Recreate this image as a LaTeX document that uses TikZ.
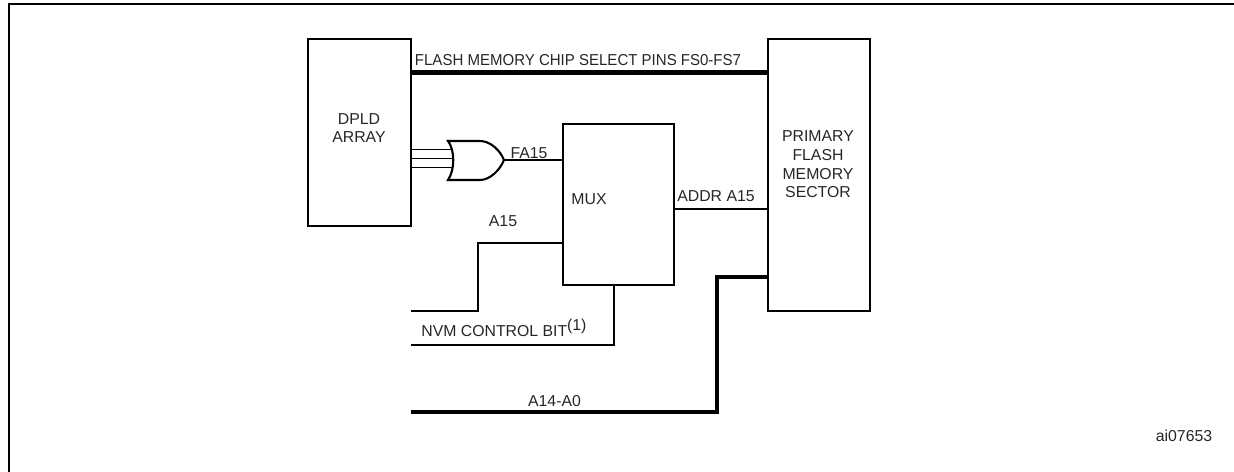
\documentclass[tikz,border=0pt]{standalone}
\usepackage{fontspec}
\setmainfont{Liberation Sans}
\usetikzlibrary{positioning}
\tikzstyle{block}=[draw,line width=1.2pt,inner sep=0pt,outer sep=0pt]
\tikzstyle{sig}=[line width=1pt]
\tikzstyle{bus}=[line width=2.4pt]
\tikzstyle{lbl}=[text=black!85,font=\fontsize{9}{10.6}\selectfont,inner sep=0pt,align=center]

\begin{document}
\begin{tikzpicture}[x=0.02cm,y=-0.02cm]

  \useasboundingbox (0,0) rectangle (1234,472);

  % frame
  \draw[line width=1.15pt] (9,472) -- (9,4) -- (1234,4);

  % blocks
  \node[block,minimum width=2.06cm,minimum height=3.75cm] (dpld) at (359.5,132.5) {};
  \node[block,minimum width=2.22cm,minimum height=3.22cm] (mux) at (618.5,204.5) {};
  \node[block,minimum width=2.04cm,minimum height=5.44cm] (flash) at (818.6,175) {};

  \coordinate (a15in) at (411,311);
  \coordinate (nvmin) at (411,345);
  \coordinate (addrin) at (411,412);

  % or gate
  \coordinate (orout) at (504,160);
  \draw[line width=1.2pt] (448,141) -- (480,141) .. controls (490,141) and (500,150) .. (orout) .. controls (500,170) and (490,180) .. (480,180) -- (448,180) .. controls (455,170) and (455,150) .. cycle;
  \foreach \y in {149.5,158.5,167.5} {
    \draw[sig] (dpld.east |- 0,\y) -- (452,\y);
  }

  % nets
  \draw[bus] (dpld.east |- 0,72.5) -- (flash.west |- 0,72.5);
  \draw[sig] (orout) -- (mux.west |- orout);
  \draw[sig] (mux.east |- 0,209) -- (flash.west |- 0,209);
  \draw[sig] (a15in) -- (478,311) -- (478,243) -- (mux.west |- 0,243);
  \draw[sig] (nvmin) -- (614,345) -- (mux.south -| 614,0);
  \draw[bus] (addrin) -- (716.7,412) -- (716.7,277) -- (flash.west |- 0,277);

  % labels
  \node[lbl] (dpldtext) at (359,128) {DPLD\\ ARRAY};
  \node[lbl] (muxtext) at (589,199) {MUX};
  \node[lbl] (flashtext) at (818,164.5) {PRIMARY\\ FLASH\\ MEMORY\\ SECTOR};
  \node[lbl,xscale=0.95,transform shape] (fstext) at (578,60) {FLASH MEMORY CHIP SELECT PINS FS0-FS7};
  \node[lbl] (fatext) at (529,153) {FA15};
  \node[lbl] (atext) at (503,221) {A15};
  \node[lbl] (addrtext) at (716,196) {ADDR A15};
  \node[lbl,anchor=base west] (nvmtext) at (421,337) {NVM CONTROL BIT\raisebox{0.42em}{(1)}};
  \node[lbl] (lowtext) at (554.5,401) {A14-A0};
  \node[lbl] (aitext) at (1184,436) {ai07653};

\end{tikzpicture}
\end{document}
